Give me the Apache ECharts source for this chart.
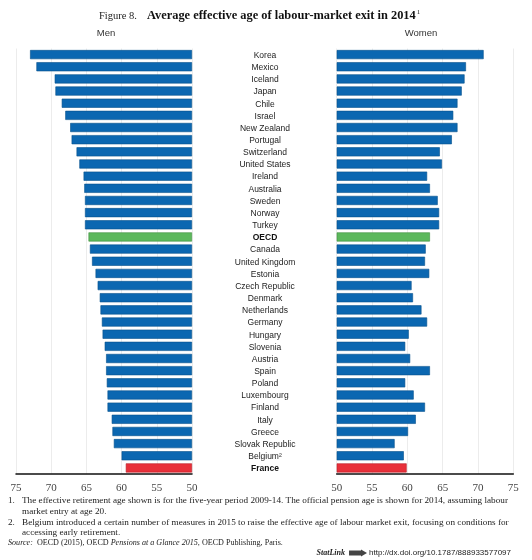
<!DOCTYPE html>
<html><head><meta charset="utf-8">
<script src="https://cdn.jsdelivr.net/npm/echarts@6/dist/echarts.min.js"></script>
<style>html,body{margin:0;padding:0;background:#fff}#c{width:532px;height:560px}</style>
</head><body><div id="c"></div>
<script>
const countries = ["Korea","Mexico","Iceland","Japan","Chile","Israel","New Zealand","Portugal","Switzerland","United States","Ireland","Australia","Sweden","Norway","Turkey","OECD","Canada","United Kingdom","Estonia","Czech Republic","Denmark","Netherlands","Germany","Hungary","Slovenia","Austria","Spain","Poland","Luxembourg","Finland","Italy","Greece","Slovak Republic","Belgium²","France"];
const men = [73.0,72.1,69.5,69.4,68.5,68.0,67.3,67.1,66.4,66.0,65.4,65.3,65.2,65.2,65.2,64.7,64.5,64.2,63.7,63.4,63.1,63.0,62.8,62.7,62.4,62.2,62.2,62.1,62.0,62.0,61.4,61.3,61.1,60.0,59.4];
const women = [70.8,68.3,68.1,67.7,67.1,66.5,67.1,66.3,64.6,64.9,62.8,63.2,64.3,64.5,64.5,63.2,62.6,62.5,63.1,60.6,60.8,62.0,62.8,60.2,59.7,60.4,63.2,59.7,60.9,62.5,61.2,60.1,58.2,59.5,59.9];
const axisMin = 50, axisMax = 75, axisStep = 5;
const highlight = {"OECD":"#5cb85c","France":"#e8303a"};
const boldNames = ["OECD","France"];

const BLUE = "#0b67b1";
function borderFor(name){ return name==="OECD" ? "#3f8f3f" : name==="France" ? "#b81f28" : "#07508c"; }
function mkData(vals){ return vals.map((v,i)=>({value:v, name:countries[i], itemStyle:{color:highlight[countries[i]]||BLUE, borderColor:borderFor(countries[i]), borderWidth:0.6}})); }

const serif = "'Liberation Serif','DejaVu Serif',serif";
const sans = "'Liberation Sans',Arial,sans-serif";

const xAxisCommon = {
  type:'value', min:axisMin, max:axisMax, interval:axisStep,
  axisLine:{show:true, lineStyle:{color:'#111', width:1.5}},
  axisTick:{show:false},
  splitLine:{show:true, lineStyle:{color:'#ececec', width:1}},
  axisLabel:{fontFamily:serif, fontSize:11, color:'#444', margin:9}
};

const fn = '9.2px '+serif;
const chart = echarts.init(document.getElementById('c'), null, {renderer:'canvas'});
chart.setOption({
  animation:false,
  backgroundColor:'#fff',
  grid:[
    {left:16, width:176, top:48.5, height:425.5},
    {left:336.7, width:176.6, top:48.5, height:425.5}
  ],
  xAxis:[
    Object.assign({gridIndex:0, inverse:true, startValue:axisMin}, xAxisCommon),
    Object.assign({gridIndex:1, startValue:axisMin}, xAxisCommon)
  ],
  yAxis:[
    {gridIndex:0, type:'category', data:countries, inverse:true, position:'right',
     axisLine:{show:false}, axisTick:{show:false},
     axisLabel:{margin:73, align:'center', fontFamily:sans, fontSize:8.5, color:'#222', padding:[2,0,0,0],
       formatter:(v)=> boldNames.includes(v) ? '{b|'+v+'}' : v,
       rich:{b:{fontWeight:'bold', fontFamily:sans, fontSize:8.5, color:'#111'}}}},
    {gridIndex:1, type:'category', data:countries, inverse:true,
     axisLine:{show:false}, axisTick:{show:false}, axisLabel:{show:false}}
  ],
  series:[
    {type:'bar', xAxisIndex:0, yAxisIndex:0, data:mkData(men), barCategoryGap:'25%', clip:true},
    {type:'bar', xAxisIndex:1, yAxisIndex:1, data:mkData(women), barCategoryGap:'25%', clip:true}
  ],
  graphic:[
    {type:'text', x:99, y:16, style:{text:'Figure 8.', font:'10.5px '+serif, fill:'#222', verticalAlign:'middle'}},
    {type:'text', x:147, y:16, style:{text:'Average effective age of labour-market exit in 2014{s|1}', font:'bold 12.4px '+serif, fill:'#111', verticalAlign:'middle',
       rich:{s:{fontSize:7, fontWeight:'normal', fontFamily:serif, fill:'#222', padding:[0,0,8,1]}}}},
    {type:'text', x:106, y:33, style:{text:'Men', font:'9.5px '+sans, fill:'#333', align:'center', verticalAlign:'middle'}},
    {type:'text', x:421, y:33, style:{text:'Women', font:'9.5px '+sans, fill:'#333', align:'center', verticalAlign:'middle'}},
    {type:'text', x:8, y:501, style:{text:'1.', font:fn, fill:'#222', verticalAlign:'middle'}},
    {type:'text', x:22, y:501, style:{text:'The effective retirement age shown is for the five-year period 2009-14. The official pension age is shown for 2014, assuming labour', font:fn, fill:'#222', verticalAlign:'middle'}},
    {type:'text', x:22, y:512, style:{text:'market entry at age 20.', font:fn, fill:'#222', verticalAlign:'middle'}},
    {type:'text', x:8, y:523, style:{text:'2.', font:fn, fill:'#222', verticalAlign:'middle'}},
    {type:'text', x:22, y:523, style:{text:'Belgium introduced a certain number of measures in 2015 to raise the effective age of labour market exit, focusing on conditions for', font:fn, fill:'#222', verticalAlign:'middle'}},
    {type:'text', x:22, y:533, style:{text:'accessing early retirement.', font:fn, fill:'#222', verticalAlign:'middle'}},
    {type:'text', x:8, y:543, style:{text:'{i|Source:}  OECD (2015), OECD {i|Pensions at a Glance 2015}, OECD Publishing, Paris.', font:'8.1px '+serif, fill:'#222', verticalAlign:'middle', rich:{i:{fontStyle:'italic', fontFamily:serif, fontSize:8.1}}}},
    {type:'text', x:511, y:553, style:{text:'http://dx.doi.org/10.1787/888933577097', font:'8px '+sans, fill:'#222', align:'right', verticalAlign:'middle'}},
    {type:'rect', shape:{x:349, y:550.5, width:12, height:5}, style:{fill:'#444'}},
    {type:'polygon', shape:{points:[[361,549.5],[367,553],[361,556.5]]}, style:{fill:'#444'}},
    {type:'text', x:345, y:553, style:{text:'StatLink', font:'italic bold 8px '+serif, fill:'#222', align:'right', verticalAlign:'middle'}}
  ]
});
</script></body></html>
